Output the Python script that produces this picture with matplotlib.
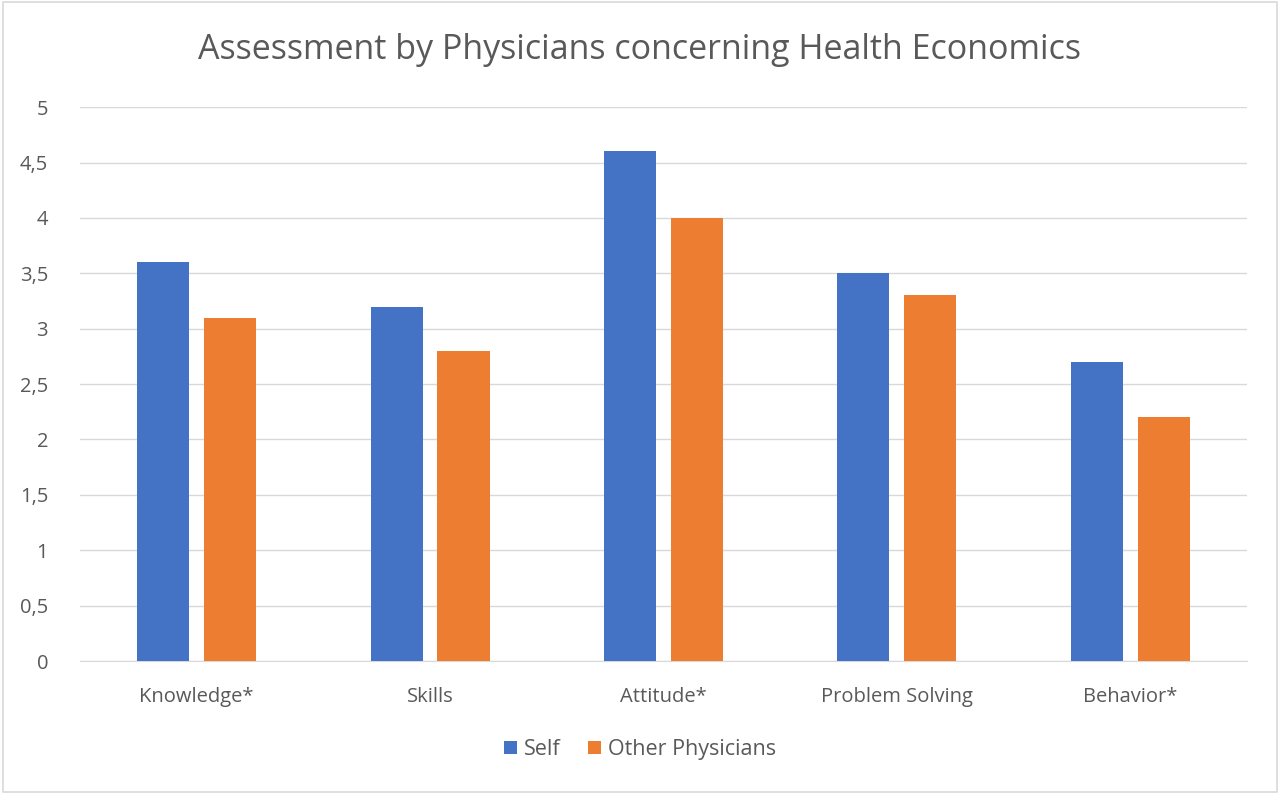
import matplotlib
matplotlib.use("Agg")
import matplotlib.pyplot as plt
from matplotlib.ticker import FuncFormatter, MultipleLocator
from matplotlib.patches import Rectangle
import numpy as np

categories = ["Knowledge*", "Skills", "Attitude*", "Problem Solving", "Behavior*"]
self_scores = [3.6, 3.2, 4.6, 3.5, 2.7]
other_scores = [3.1, 2.8, 4.0, 3.3, 2.2]
series_names = ["Self", "Other Physicians"]

BLUE = "#4472C4"
ORANGE = "#ED7D31"
TEXT = "#595959"
GRID = "#D9D9D9"

plt.rcParams['font.family'] = ['Open Sans', 'DejaVu Sans']

fig = plt.figure(figsize=(12.8, 7.94), dpi=100)
# light frame round the whole chart
fig.patches.append(Rectangle((0.002, 0.002), 0.996, 0.996, transform=fig.transFigure,
                             fill=False, edgecolor=GRID, linewidth=1.2))
ax = fig.add_axes([0.0625, 0.1675, 0.9115, 0.6975])

x = np.arange(len(categories))
width = 0.223
gap = 0.064
ax.bar(x - (width + gap) / 2, self_scores, width, color=BLUE, label=series_names[0], zorder=3)
ax.bar(x + (width + gap) / 2, other_scores, width, color=ORANGE, label=series_names[1], zorder=3)

ax.set_xlim(-0.5, len(categories) - 0.5)
ax.set_ylim(0, 5)
ax.yaxis.set_major_locator(MultipleLocator(0.5))
ax.yaxis.set_major_formatter(FuncFormatter(lambda v, p: ("%g" % v).replace(".", ",")))
ax.grid(axis="y", color=GRID, linewidth=1, zorder=0)
for s in ["top", "right", "left"]:
    ax.spines[s].set_visible(False)
ax.spines["bottom"].set_color(GRID)
ax.set_xticks(x)
ax.set_xticklabels(categories)
ax.tick_params(axis="both", length=0, labelsize=14.5, labelcolor=TEXT)
ax.tick_params(axis="x", pad=19)
ax.tick_params(axis="y", pad=23)

fig.text(0.5, 0.937, "Assessment by Physicians concerning Health Economics",
         ha="center", va="center", fontsize=24.5, color=TEXT)

fig.legend(loc="center", bbox_to_anchor=(0.5, 0.056), ncol=2, frameon=False,
           fontsize=15.5, labelcolor=TEXT, handlelength=0.6, handleheight=0.6,
           handletextpad=0.33, columnspacing=1.25)

fig.savefig("out.png", dpi=100, facecolor="white")
